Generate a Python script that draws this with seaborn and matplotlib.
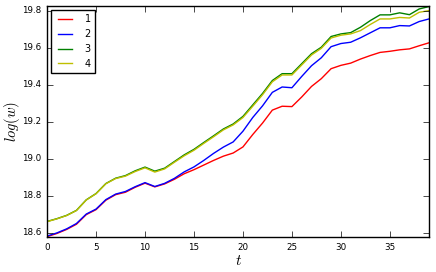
import matplotlib
matplotlib.use("Agg")
import matplotlib.pyplot as plt
import seaborn as sns
import pandas as pd

t = list(range(40))
labels = ["1", "2", "3", "4"]
colors = ["r", "b", "g", "y"]

s1 = [18.578, 18.595, 18.617, 18.645, 18.697, 18.724, 18.775, 18.805, 18.818, 18.845,
      18.867, 18.847, 18.863, 18.888, 18.918, 18.940, 18.965, 18.990, 19.013, 19.030,
      19.063, 19.130, 19.192, 19.262, 19.283, 19.281, 19.333, 19.390, 19.432, 19.486,
      19.504, 19.516, 19.538, 19.557, 19.574, 19.580, 19.588, 19.593, 19.610, 19.626]
s2 = [18.581, 18.598, 18.620, 18.649, 18.700, 18.727, 18.778, 18.808, 18.822, 18.848,
      18.870, 18.849, 18.866, 18.893, 18.928, 18.955, 18.990, 19.028, 19.062, 19.090,
      19.148, 19.222, 19.285, 19.358, 19.387, 19.383, 19.444, 19.502, 19.545, 19.605,
      19.622, 19.629, 19.653, 19.680, 19.707, 19.707, 19.719, 19.717, 19.741, 19.755]
s3 = [18.660, 18.675, 18.693, 18.720, 18.777, 18.811, 18.865, 18.894, 18.908, 18.934,
      18.954, 18.932, 18.948, 18.984, 19.020, 19.050, 19.087, 19.123, 19.160, 19.187,
      19.228, 19.290, 19.352, 19.422, 19.459, 19.459, 19.513, 19.567, 19.602, 19.660,
      19.674, 19.681, 19.710, 19.746, 19.777, 19.777, 19.788, 19.778, 19.809, 19.822]
s4 = [18.659, 18.674, 18.692, 18.719, 18.776, 18.810, 18.864, 18.892, 18.905, 18.930,
      18.950, 18.927, 18.944, 18.980, 19.015, 19.045, 19.082, 19.118, 19.155, 19.182,
      19.222, 19.283, 19.345, 19.415, 19.452, 19.452, 19.506, 19.560, 19.596, 19.652,
      19.667, 19.674, 19.692, 19.725, 19.755, 19.755, 19.763, 19.760, 19.791, 19.800]

series = [s1, s2, s3, s4]
rows = []
for lab, vals in zip(labels, series):
    for ti, v in zip(t, vals):
        rows.append({"t": ti, "w": v, "series": lab})
df = pd.DataFrame(rows)

plt.style.use("classic")
fig = plt.figure(figsize=(4.36, 2.72), dpi=100, facecolor="white")
ax = fig.add_axes([0.108, 0.128, 0.876, 0.85])

sns.lineplot(data=df, x="t", y="w", hue="series", hue_order=labels,
             palette=dict(zip(labels, colors)), linewidth=1.0, ax=ax)

ax.set_xlim(0, 39)
ax.set_ylim(18.575, 19.825)
ax.set_xticks([0, 5, 10, 15, 20, 25, 30, 35])
ax.set_yticks([18.6, 18.8, 19.0, 19.2, 19.4, 19.6, 19.8])
ax.tick_params(labelsize=6.3, length=4)
ax.set_xlabel(r"$t$", fontsize=11, labelpad=1)
ax.set_ylabel(r"$log(w)$", fontsize=10.5)
ax.yaxis.set_label_coords(-0.065, 0.5)

handles, labs = ax.get_legend_handles_labels()
ax.legend(handles, labs, loc="upper left", fontsize=7, handlelength=2.0,
          handletextpad=1.0, labelspacing=0.5, borderaxespad=0.45, borderpad=0.4)

fig.savefig("out.png", dpi=100, facecolor="white")
